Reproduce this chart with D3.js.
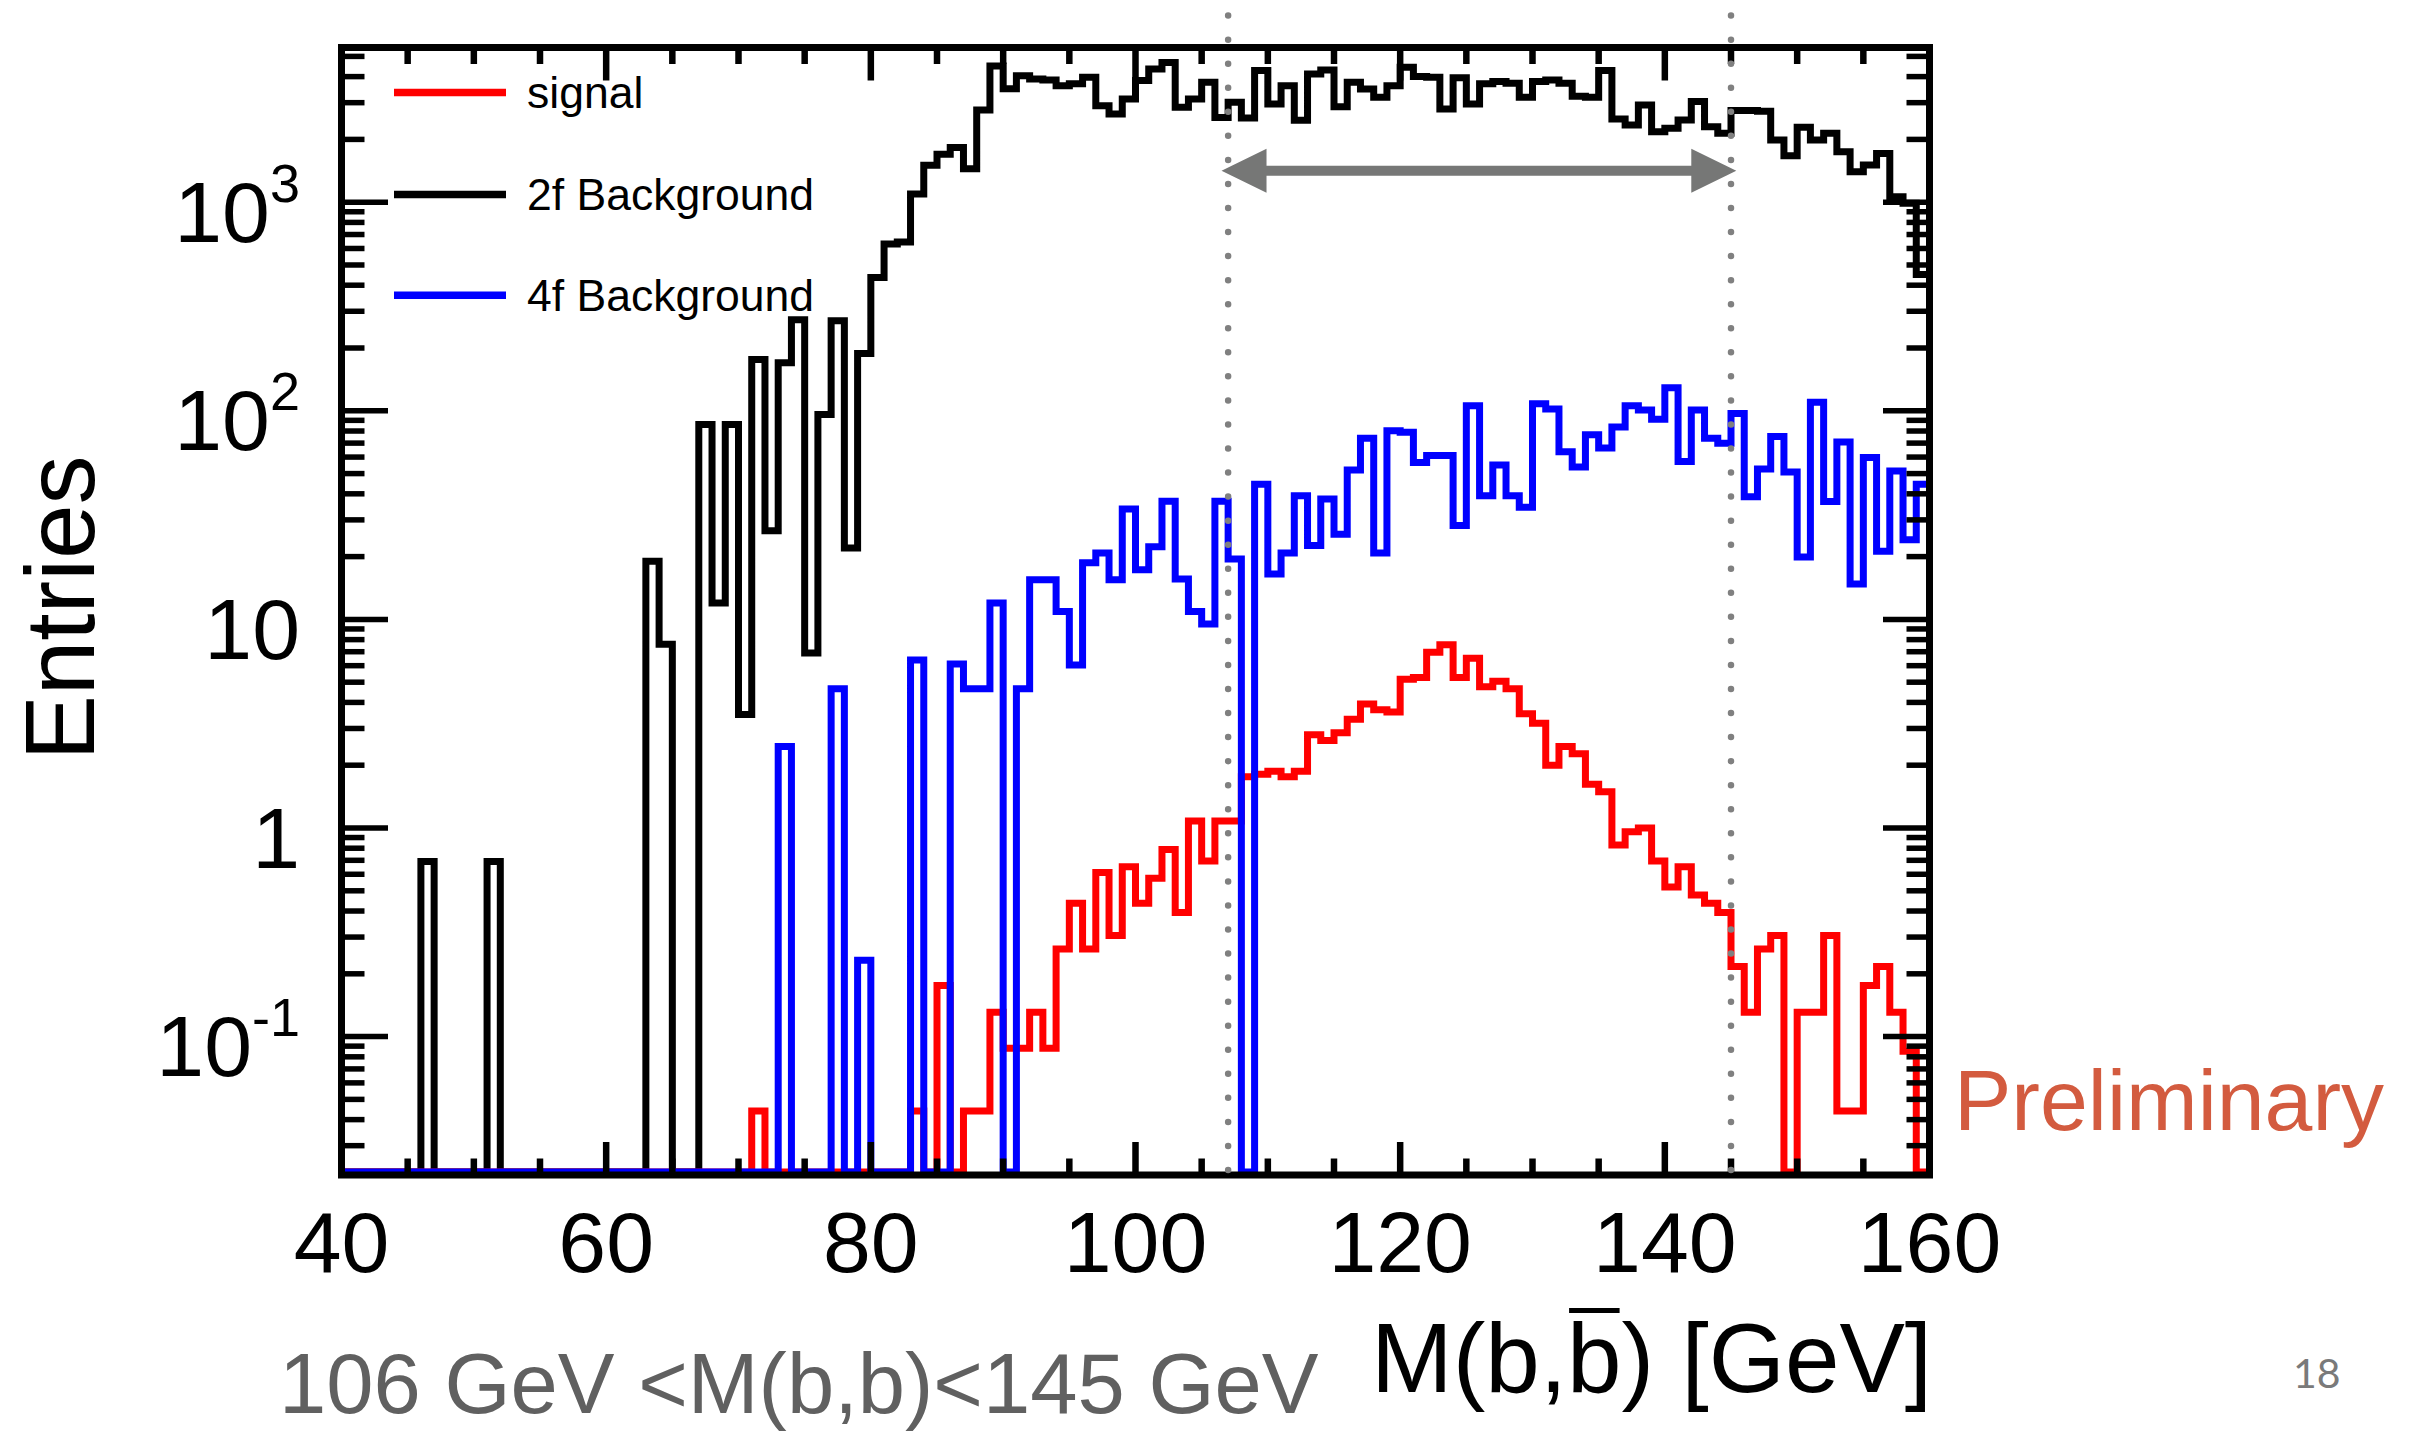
<!DOCTYPE html>
<html><head><meta charset="utf-8">
<script src="https://cdnjs.cloudflare.com/ajax/libs/d3/7.8.5/d3.min.js"></script>
<style>html,body{margin:0;padding:0;background:#fff;} svg{display:block;}</style>
</head><body><svg id="c" width="2416" height="1434"></svg>
<script>
// ---- data (bins of 1 GeV starting at 40 GeV) ----
const binStart = 40, binWidth = 1;
const signal = [
 0,0,0,0,0,0,0,0,0,0, 0,0,0,0,0,0,0,0,0,0, 0,0,0,0,0,0,0,0,0,0, 0,      // 40-70
 0.044,                                                              // 71
 0,0,0,0,0,0,0,0,0,0,0,                                              // 72-82
 0.044,0,0.176,0,0.044,0.044,0.131,0.088,0.088,0.131,                 // 83-92
 0.088,0.263,0.436,0.263,0.612,0.305,0.652,0.436,0.574,0.788,         // 93-102
 0.393,1.08,0.695,1.08,1.08,1.76,1.81,1.87,1.76,1.87,                 // 103-112
 2.8,2.63,2.86,3.32,3.93,3.69,3.6,5.17,5.27,6.95,                     // 113-122
 7.56,5.27,6.52,4.75,5.05,4.65,3.53,3.18,2.0,2.46,                    // 123-132
 2.27,1.62,1.49,0.83,0.96,1.0,0.695,0.521,0.652,0.477,                // 133-142
 0.436,0.393,0.217,0.131,0.263,0.305,0,0.131,0.131,0.305,             // 143-152
 0.044,0.044,0.176,0.217,0.131,0.085,0                                // 153-159
];
const bg2f = [
 0,0,0,0,0,0, 0.69, 0,0,0,0, 0.69, 0,0,0,0,0,0,0,0,0,0,0,             // 40-62
 19,7.6,0,0,86,12,86,3.5,176,26.6,                                    // 63-72
 170,273,6.9,96,270,22,188,435,630,645,                               // 73-82
 1095,1503,1700,1830,1445,2770,4500,3500,4040,3900,                   // 83-92
 3850,3620,3700,3970,2900,2650,3125,3830,4350,4670,                   // 93-102
 2850,3125,3760,2550,3010,2535,4275,2960,3620,2470,                   // 103-112
 4120,4300,2870,3760,3490,3185,3620,4440,4000,3970,                   // 113-122
 2800,3950,2960,3700,3790,3720,3185,3790,3850,3720,                   // 123-132
 3220,3185,4275,2506,2345,2925,2178,2260,2478,3035,                   // 133-142
 2300,2140,2750,2750,2730,1985,1670,2285,1985,2140,                   // 143-152
 1745,1400,1507,1714,1062,988,450                                     // 153-159
];
const bg4f = [
 0,0,0,0,0,0,0,0,0,0, 0,0,0,0,0,0,0,0,0,0, 0,0,0,0,0,0,0,0,0,0, 0,0,0, // 40-72
 2.46,0,0,0,4.65,0,0.232,0,0,0,                                       // 73-82
 6.38,0,0,6.12,4.65,4.65,12,0,4.65,15.5,                              // 83-92
 15.5,10.9,6.04,18.7,20.8,15.5,33.8,17.3,22.3,36.8,                   // 93-102
 15.6,10.9,9.5,36.8,19.5,0,44.5,16.5,20.8,39.2,                       // 103-112
 22.6,37.8,25.6,52,73.8,20.8,80.3,79,56.5,61,                         // 113-122
 61,28.2,105.6,39.2,55,39.2,34.5,108,102,63.6,                        // 123-132
 53.8,76.8,66.3,83.7,105.6,101,91,129,57.2,101,                       // 133-142
 73.8,69.8,97,38.7,52.6,75.4,50.9,19.9,110,36.7,                      // 143-152
 70.8,14.8,59.7,21.2,51.5,24.1,44.5                                   // 153-159
];
const seriesNames = ["signal", "2f Background", "4f Background"];
const seriesColors = ["#ff0000", "#000000", "#0000ff"];
const xTickValues = [40, 60, 80, 100, 120, 140, 160];
const xTickLabels = ["40", "60", "80", "100", "120", "140", "160"];
const yTickValues = [0.1, 1, 10, 100, 1000];
const yTickBase = ["10", "1", "10", "10", "10"];
const yTickExp = ["-1", "", "", "2", "3"];
const cutWindow = [107, 145];
const arrowSpan = [106.5, 145.4];
const arrowLevel = 1416;

// ---- layout ----
const L = 341.5, R = 1929.5, T = 47.5, B = 1175;
const svg = d3.select("#c");
const FONT = "'Liberation Sans', Arial, Helvetica, sans-serif";

const x = d3.scaleLinear().domain([40, 160]).range([L, R]);
const y = d3.scaleLog().domain([1000, 0.1]).range([202.2, 1036.6]);
const yZero = 1172;

function histPath(vals) {
  let d = "";
  vals.forEach((v, i) => {
    const x0 = x(binStart + i * binWidth), x1 = x(binStart + (i + 1) * binWidth);
    const yy = v > 0 ? Math.min(y(v), yZero) : yZero;
    d += (i === 0 ? `M${x0},${yy}` : `V${yy}`) + `H${x1}`;
  });
  return d;
}

const hist = svg.append("g").attr("fill", "none").attr("stroke-width", 7)
  .attr("stroke-linejoin", "miter").attr("stroke-linecap", "butt");
[[bg2f, seriesColors[1]], [signal, seriesColors[0]], [bg4f, seriesColors[2]]].forEach(([vals, col]) => {
  hist.append("path").attr("d", histPath(vals)).attr("stroke", col);
});

// ---- frame & ticks ----
const ax = svg.append("g").attr("stroke", "#000");
const xTicks = d3.range(40, 161, 5);
xTicks.forEach(v => {
  const major = v % 20 === 0;
  const len = major ? 33 : 16.5;
  ax.append("line").attr("x1", x(v)).attr("x2", x(v)).attr("y1", B).attr("y2", B - len).attr("stroke-width", 6.5);
  ax.append("line").attr("x1", x(v)).attr("x2", x(v)).attr("y1", T).attr("y2", T + len).attr("stroke-width", 6.5);
});
for (let e = -2; e <= 3; e++) {
  for (let m = 1; m <= 9; m++) {
    const v = m * Math.pow(10, e);
    const yy = y(v);
    if (yy < T + 2 || yy > B - 2) continue;
    const len = m === 1 ? 46.5 : 23;
    ax.append("line").attr("x1", L).attr("x2", L + len).attr("y1", yy).attr("y2", yy).attr("stroke-width", 5.5);
    ax.append("line").attr("x1", R).attr("x2", R - len).attr("y1", yy).attr("y2", yy).attr("stroke-width", 5.5);
  }
}
ax.append("rect").attr("x", L).attr("y", T).attr("width", R - L).attr("height", B - T)
  .attr("fill", "none").attr("stroke-width", 7);

// ---- tick labels ----
xTickValues.forEach((v, i) => {
  svg.append("text").attr("x", x(v)).attr("y", 1271.7).attr("text-anchor", "middle")
    .attr("font-family", FONT).attr("font-size", 86).text(xTickLabels[i]);
});
yTickValues.forEach((v, i) => {
  const t = svg.append("text").attr("x", 300).attr("y", y(v) + 39.5).attr("text-anchor", "end")
    .attr("font-family", FONT).attr("font-size", 86);
  t.append("tspan").text(yTickBase[i]);
  if (yTickExp[i]) t.append("tspan").attr("dy", -40).attr("font-size", 54).text(yTickExp[i]);
});

// ---- axis titles ----
svg.append("text").attr("transform", "translate(94,608) rotate(-90)").attr("text-anchor", "middle")
  .attr("font-family", FONT).attr("font-size", 98).text("Entries");
const xt = svg.append("text").attr("x", 1932).attr("y", 1392).attr("text-anchor", "end")
  .attr("font-family", FONT).attr("font-size", 98).text("M(b,b) [GeV]");
try {
  const ext = xt.node().getExtentOfChar(4);
  svg.append("line").attr("x1", ext.x + 2).attr("x2", ext.x + ext.width - 2)
    .attr("y1", 1310.5).attr("y2", 1310.5).attr("stroke", "#000").attr("stroke-width", 5);
} catch (e) {}

// ---- legend ----
[0, 1, 2].forEach(i => {
  const ly = [92.4, 194.6, 295.2][i];
  svg.append("line").attr("x1", 394).attr("x2", 506).attr("y1", ly).attr("y2", ly)
    .attr("stroke", seriesColors[i]).attr("stroke-width", 7.5);
  svg.append("text").attr("x", 527).attr("y", ly + 15.5).attr("font-family", FONT)
    .attr("font-size", 44.5).text(seriesNames[i]);
});

// ---- annotations ----
cutWindow.forEach(c => {
  svg.append("line").attr("x1", x(c)).attr("x2", x(c)).attr("y1", 15.6).attr("y2", 1194)
    .attr("stroke", "#808080").attr("stroke-width", 6.5).attr("stroke-linecap", "round")
    .attr("stroke-dasharray", "0 24.05");
});
{
  const ya = y(arrowLevel), xl = x(arrowSpan[0]), xr = x(arrowSpan[1]);
  const hl = 45, hh = 22, st = 5;
  const pts = [[xl, ya], [xl + hl, ya - hh], [xl + hl, ya - st], [xr - hl, ya - st], [xr - hl, ya - hh], [xr, ya],
    [xr - hl, ya + hh], [xr - hl, ya + st], [xl + hl, ya + st], [xl + hl, ya + hh]];
  svg.append("polygon").attr("points", pts.map(p => p.join(",")).join(" ")).attr("fill", "#767776");
}
svg.append("text").attr("x", 1954).attr("y", 1130).attr("font-family", FONT).attr("font-size", 86)
  .attr("fill", "#d35b3f").text("Preliminary");
svg.append("text").attr("x", 279).attr("y", 1413).attr("font-family", FONT).attr("font-size", 85)
  .attr("fill", "#606060").text("106 GeV <M(b,b)<145 GeV");
svg.append("text").attr("x", 2293).attr("y", 1388).attr("font-family", "Lato, 'Open Sans', sans-serif")
  .attr("font-size", 41).attr("fill", "#7a7a7a").text("18");
</script></body></html>
